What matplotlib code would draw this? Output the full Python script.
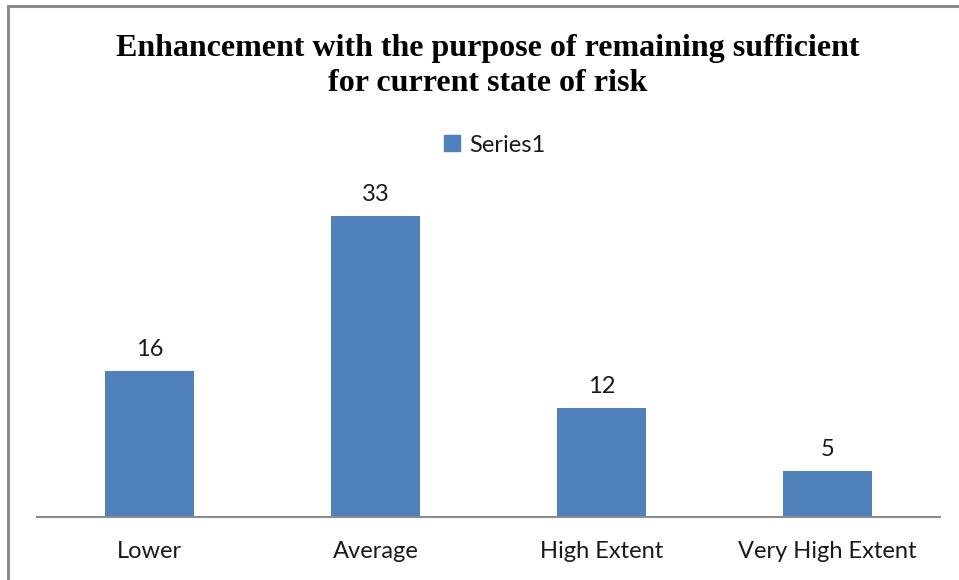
import matplotlib
matplotlib.use("Agg")
import matplotlib.pyplot as plt
from matplotlib.patches import Rectangle, Patch

categories = ["Lower", "Average", "High Extent", "Very High Extent"]
values = [16, 33, 12, 5]
series_name = "Series1"
title = "Enhancement with the purpose of remaining sufficient\nfor current state of risk"

W, H = 959, 580
fig = plt.figure(figsize=(W / 100, H / 100), dpi=100)
fig.patch.set_facecolor("white")

# outer chart border (top and left visible)
fig.patches.append(Rectangle((8 / W, -0.05), 1.2, 1 - 6 / H + 0.05, transform=fig.transFigure,
                             fill=False, edgecolor="#8c8c8c", linewidth=2.2))

ax = fig.add_axes([37 / W, 1 - 517 / H, (940 - 37) / W, (517 - 198) / H])
bar_color = "#4F81BD"
x = list(range(len(categories)))
bars = ax.bar(x, values, width=0.395, color=bar_color, label=series_name)
ax.set_xlim(-0.5, len(categories) - 0.5)
ax.set_ylim(0, 35)

lab_font = "Lato"
fs = 17
for xi, v in zip(x, values):
    ax.annotate(str(v), (xi, v), xytext=(0, 8), textcoords="offset points",
                ha="center", va="bottom", fontsize=fs, family=lab_font, color="#1a1a1a")

ax.set_xticks(x)
ax.set_xticklabels(categories, fontsize=fs, family=lab_font, color="#1a1a1a")
ax.tick_params(axis="x", length=0, pad=17)
ax.set_yticks([])
for s in ["top", "left", "right"]:
    ax.spines[s].set_visible(False)
ax.spines["bottom"].set_color("#8c8c8c")
ax.spines["bottom"].set_linewidth(1.5)

fig.text(488 / W, 1 - 66 / H, title, ha="center", va="center", fontsize=23,
         family="Liberation Serif", fontweight="bold", linespacing=1.3, color="black")

handle = Patch(facecolor=bar_color, edgecolor=bar_color)
leg = fig.legend([handle], [series_name], loc="center", bbox_to_anchor=(495 / W, 1 - 145 / H),
                 frameon=False, handlelength=0.65, handleheight=0.65, handletextpad=0.4,
                 prop={"family": lab_font, "size": fs})
for t in leg.get_texts():
    t.set_color("#1a1a1a")

fig.savefig("out.png", dpi=100)
